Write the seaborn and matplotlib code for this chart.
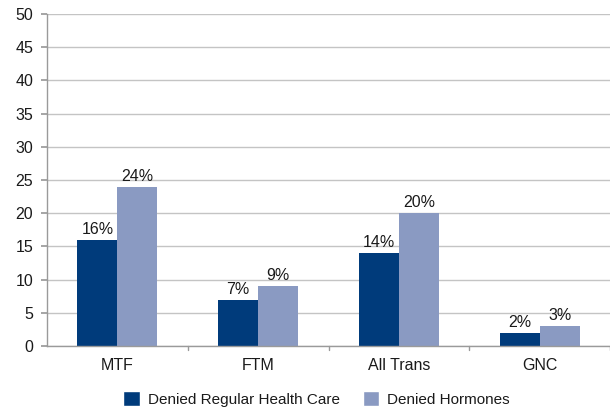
import matplotlib
matplotlib.use("Agg")
import matplotlib.pyplot as plt
from matplotlib import font_manager
import seaborn as sns
import pandas as pd

categories = ["MTF", "FTM", "All Trans", "GNC"]
series_names = ["Denied Regular Health Care", "Denied Hormones"]
health_care = [16, 7, 14, 2]
hormones = [24, 9, 20, 3]
colors = ["#003B7B", "#8A9AC2"]
y_ticks = [0, 5, 10, 15, 20, 25, 30, 35, 40, 45, 50]

df = pd.DataFrame({
    "category": categories * 2,
    "series": [series_names[0]] * 4 + [series_names[1]] * 4,
    "value": health_care + hormones,
})

sns.set_theme(style="white")
names = {f.name for f in font_manager.fontManager.ttflist}
family = "Liberation Sans Narrow" if "Liberation Sans Narrow" in names else "Liberation Sans"
plt.rcParams["font.family"] = [family, "DejaVu Sans"]

fig = plt.figure(figsize=(6.10, 4.09), dpi=100)
ax = fig.add_axes([47 / 610, 1 - 346 / 409, 563 / 610, (346 - 14) / 409])

sns.barplot(data=df, x="category", y="value", hue="series", palette=colors,
            width=0.57, saturation=1, ax=ax, legend=True)

for container in ax.containers:
    for bar in container:
        bar.set_edgecolor("none")
    ax.bar_label(container, labels=[f"{int(v)}%" for v in container.datavalues],
                 padding=2, fontsize=11.5, color="#1a1a1a")

ax.set_ylim(0, 50)
ax.set_yticks(y_ticks)
ax.set_xlim(-0.5, 3.5)
ax.yaxis.grid(True, color="#C4C4C4", linewidth=1)
ax.set_axisbelow(True)
ax.set_xlabel("")
ax.set_ylabel("")
for side in ["top", "right"]:
    ax.spines[side].set_visible(False)
for side in ["left", "bottom"]:
    ax.spines[side].set_color("#9A9A9A")
    ax.spines[side].set_linewidth(1)

ax.tick_params(axis="y", length=4, color="#9A9A9A", labelsize=11.5, labelcolor="#1a1a1a", pad=6, direction="out", left=True)
ax.set_xticks([0, 1, 2, 3])
ax.set_xticklabels(categories)
ax.tick_params(axis="x", length=0, labelsize=11.5, labelcolor="#1a1a1a", pad=9)
for xb in [0.5, 1.5, 2.5, 3.5]:
    ax.plot([xb, xb], [0, -0.012], transform=ax.get_xaxis_transform(), color="#9A9A9A",
            linewidth=1, clip_on=False)

ax.legend(loc="lower center", bbox_to_anchor=(0.5 - 12 / 563, -0.225), ncol=2, frameon=False,
          fontsize=11, handlelength=1.1, handleheight=1.1, handletextpad=0.5,
          columnspacing=1.5, labelcolor="#1a1a1a")

fig.savefig("out.png", dpi=100)
